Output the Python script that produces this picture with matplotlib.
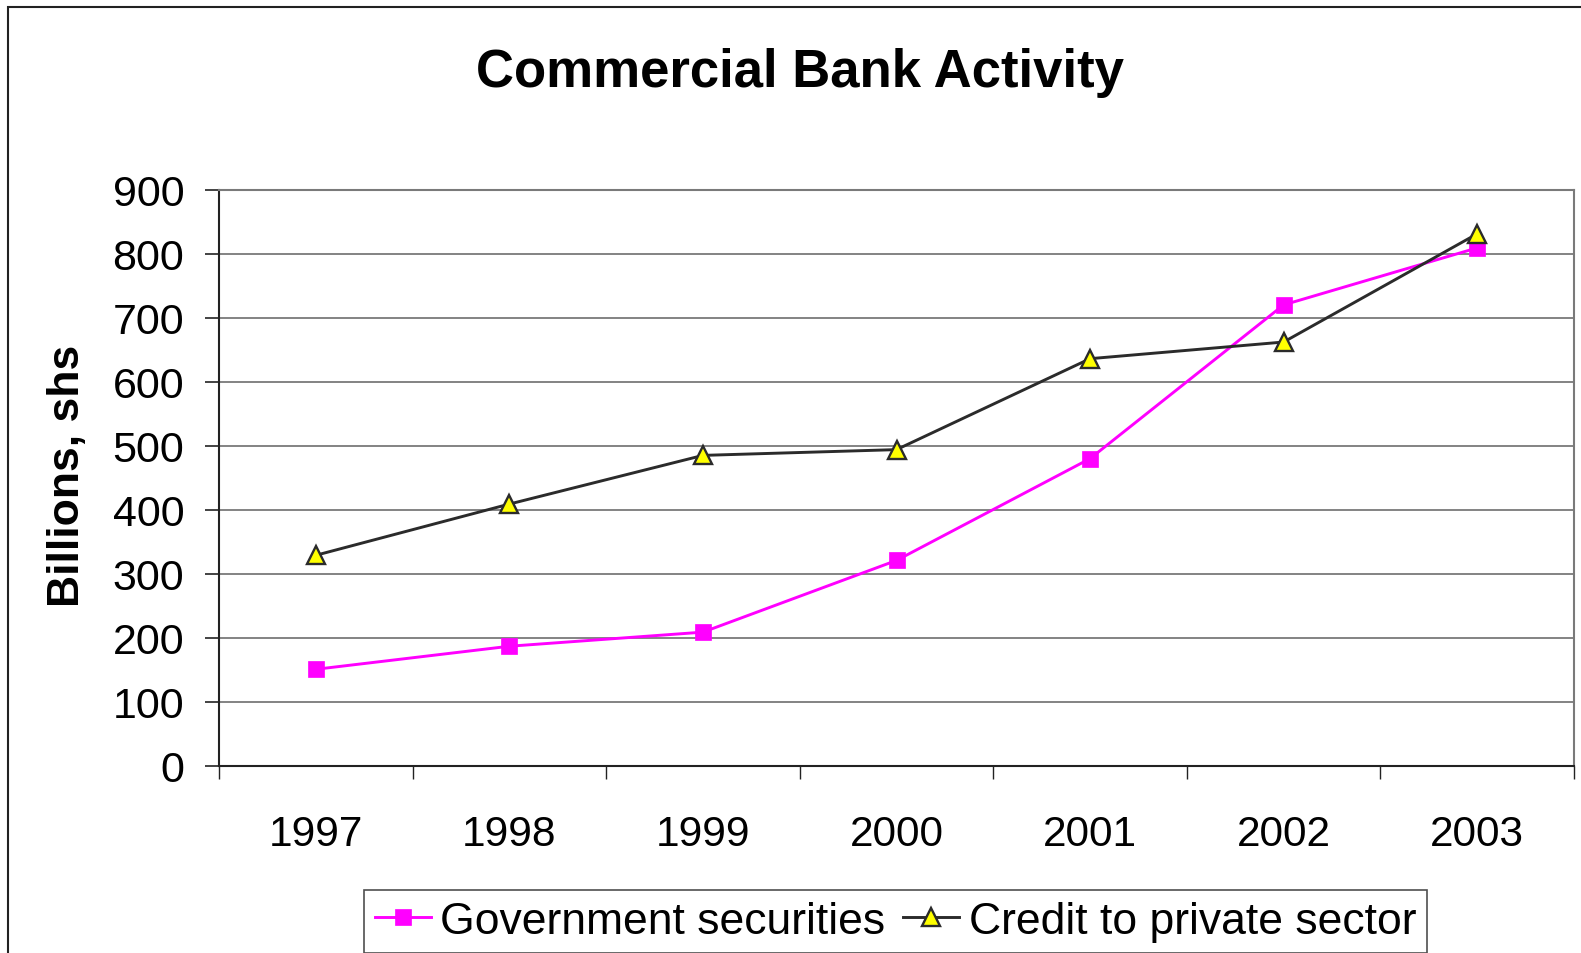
import matplotlib
matplotlib.use("Agg")
import matplotlib.pyplot as plt
from matplotlib.patches import Rectangle
from matplotlib.ticker import FixedLocator, NullFormatter, FixedFormatter

plt.rcParams['font.family'] = ['Liberation Sans', 'DejaVu Sans']

years = ['1997', '1998', '1999', '2000', '2001', '2002', '2003']
gov_securities = [151, 187, 209, 321, 480, 720, 809]
credit_private = [329, 409, 485, 494, 636, 662, 831]
y_ticks = [0, 100, 200, 300, 400, 500, 600, 700, 800, 900]

W, H = 1581, 954
fig = plt.figure(figsize=(W / 100, H / 100), dpi=100)
fig.patch.set_facecolor('white')

# outer chart border (extends past right and bottom edges)
fig.add_artist(Rectangle((8 / W, -0.1), 1.2, 1 - 8 / H + 0.1, transform=fig.transFigure,
                         fill=False, edgecolor='#222222', linewidth=1.5, clip_on=False))

left, right, top, bottom = 219, 1574, 190.6, 767
ax = fig.add_axes([left / W, 1 - bottom / H, (right - left) / W, (bottom - top) / H])

x = list(range(len(years)))
ax.plot(x, gov_securities, color='#FF00FF', linewidth=2.1, marker='s', markersize=12,
        markerfacecolor='#FF00FF', markeredgecolor='#FF00FF', markeredgewidth=0.5,
        label='Government securities', zorder=4)
ax.plot(x, credit_private, color='#2b2b2b', linewidth=2.1, marker='^', markersize=12.5,
        markerfacecolor='#FFFF00', markeredgecolor='#2b2b2b', markeredgewidth=1.7,
        label='Credit to private sector', zorder=5)

ax.set_xlim(-0.5, len(years) - 0.5)
ax.set_ylim(0, 900)

# y axis
ax.set_yticks(y_ticks)
ax.set_yticklabels([str(v) for v in y_ticks])
ax.tick_params(axis='y', which='major', direction='out', length=10, width=1.2,
               color='#222222', pad=15, labelsize=31)
ax.yaxis.grid(True, color='#7a7a7a', linewidth=1.3)
ax.set_axisbelow(True)

# x axis: boundary ticks major, labels on minor at category centres
ax.xaxis.set_major_locator(FixedLocator([i - 0.5 for i in range(len(years) + 1)]))
ax.xaxis.set_major_formatter(NullFormatter())
ax.xaxis.set_minor_locator(FixedLocator(x))
ax.xaxis.set_minor_formatter(FixedFormatter(years))
ax.tick_params(axis='x', which='major', direction='out', length=9.5, width=1.0, color='#222222')
ax.tick_params(axis='x', which='minor', length=0, pad=34.5, labelsize=30.5)

for side in ['left', 'bottom']:
    ax.spines[side].set_color('#222222')
    ax.spines[side].set_linewidth(1.5)
for side in ['top', 'right']:
    ax.spines[side].set_color('#7a7a7a')
    ax.spines[side].set_linewidth(1.5)

# title and y label
fig.text(800 / W, 1 - 73 / H, 'Commercial Bank Activity', ha='center', va='center',
         fontsize=38, fontweight='bold')
fig.text(67 / W, 1 - 476 / H, 'Billions, shs', ha='center', va='center', rotation=90,
         fontsize=32, fontweight='bold')

handles, labels = ax.get_legend_handles_labels()
leg = fig.legend(handles, labels, loc='center', ncol=2,
                 bbox_to_anchor=((366 + 1425) / 2 / W, 1 - (892 + 953) / 2 / H),
                 fontsize=32, frameon=True, fancybox=False, shadow=False,
                 handlelength=1.25, handletextpad=0.22, columnspacing=0.4,
                 borderpad=0.25, borderaxespad=0)
leg.get_frame().set_edgecolor('#222222')
leg.get_frame().set_linewidth(1.2)

fig.savefig('out.png', dpi=100, facecolor='white')
